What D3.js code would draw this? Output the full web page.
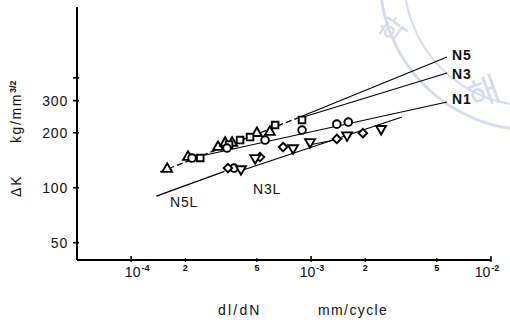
<!DOCTYPE html>
<html>
<head>
<meta charset="utf-8">
<script src="https://cdn.jsdelivr.net/npm/d3@7"></script>
<style>
  body { margin: 0; background: #fff; }
  svg { display: block; font-family: "Liberation Sans", Arial, sans-serif; }
</style>
</head>
<body>
<div id="chart"></div>
<script>
// crack growth rate dl/dN (mm/cycle) vs stress intensity range dK (kg/mm^3/2)
const triUp   = [[1.585e-4,126.6],[2.07e-4,147.3],[3.04e-4,167],[3.33e-4,176],[3.64e-4,176],[5.0e-4,199],[5.9e-4,202]];
const squares = [[2.42e-4,145.5],[3.5e-4,172],[4.03e-4,182.5],[4.58e-4,189.6],[6.31e-4,220.6],[8.91e-4,235]];
const circles = [[2.18e-4,145.5],[3.41e-4,165],[5.55e-4,182.5],[8.91e-4,207],[1.39e-3,223],[1.61e-3,229],[3.73e-4,128.2]];
const diamonds = [[3.45e-4,128.2],[5.2e-4,147.3],[6.99e-4,167],[1.39e-3,185],[1.94e-3,199]];
const triDown = [[4.08e-4,126.6],[4.89e-4,145.5],[7.94e-4,165],[9.87e-4,178],[1.585e-3,194],[2.45e-3,210]];

// fitted lines, [dl/dN, dK] end points
const upperFit = [[1.45e-4,122],[8.69e-4,244]];
const lineN5  = [[8.69e-4,244],[5.7e-3,520]];
const lineN3  = [[8.69e-4,241],[5.7e-3,425]];
const lineN1  = [[2.27e-4,147],[5.7e-3,295]];
const lineN3L = [[4.03e-4,123.5],[3.2e-3,244]];
const lineN3Lb = [[9.87e-4,172],[1.5e-3,186]];
const lineN5L = [[1.38e-4,90],[3.3e-4,123]];

const yTicks = [50,100,200,300,400];
const yLabels = {50:"50",100:"100",200:"200",300:"300"};
const xMajor = [1e-4,1e-3,1e-2];
const xMajorExp = ["-4","-3","-2"];
const xMinor = [2e-4,5e-4,2e-3,5e-3];
const xMinorLab = ["2","5","2","5"];

const svg = d3.select("#chart").append("svg").attr("width", 510).attr("height", 322);

const x = d3.scaleLog().domain([5e-5, 1e-2]).range([77, 491]);
const y = d3.scaleLog().domain([40.2, 977]).range([260, 7]);

// pale watermark seal
const wm = svg.append("g").attr("fill", "none").attr("stroke", "#d3dcef");
wm.append("circle").attr("cx", 532).attr("cy", -22).attr("r", 152).attr("stroke-width", 3);
wm.append("circle").attr("cx", 532).attr("cy", -22).attr("r", 128).attr("stroke-width", 2);
svg.append("text").attr("transform", "translate(402,36) rotate(-55)")
  .attr("font-family", "Noto Sans CJK KR").attr("font-size", 28).attr("fill", "#d0daee")
  .attr("text-anchor", "middle").text("학");
svg.append("text").attr("transform", "translate(488,104) rotate(-20)")
  .attr("font-family", "Noto Sans CJK KR").attr("font-size", 34).attr("fill", "#d0daee")
  .attr("text-anchor", "middle").text("해");

// axes
svg.append("line").attr("x1", x.range()[0]).attr("x2", x.range()[0])
  .attr("y1", y.range()[0]).attr("y2", y.range()[1]).attr("stroke", "#000").attr("stroke-width", 2);
svg.append("line").attr("x1", x.range()[0]).attr("x2", x.range()[1])
  .attr("y1", y.range()[0]).attr("y2", y.range()[0]).attr("stroke", "#000").attr("stroke-width", 2);

yTicks.forEach(t => {
  svg.append("line").attr("x1", 73).attr("x2", 79).attr("y1", y(t)).attr("y2", y(t))
    .attr("stroke", "#000").attr("stroke-width", 1.6);
  if (yLabels[t])
    svg.append("text").attr("x", 68).attr("y", y(t) + 5).attr("text-anchor", "end")
      .attr("font-size", 14).attr("letter-spacing", 0.8).attr("fill", "#111").text(yLabels[t]);
});

xMajor.forEach((t, i) => {
  svg.append("line").attr("x1", x(t)).attr("x2", x(t)).attr("y1", 256).attr("y2", 262)
    .attr("stroke", "#000").attr("stroke-width", 1.6);
  const tx = svg.append("text").attr("x", x(t) + [6, 1, -4][i]).attr("y", 277)
    .attr("text-anchor", "middle").attr("font-size", 14).attr("fill", "#111");
  tx.append("tspan").text("10");
  tx.append("tspan").attr("dy", -6).attr("dx", 1).attr("font-size", 9).attr("font-weight", "bold").text(xMajorExp[i]);
});
xMinor.forEach((t, i) => {
  svg.append("line").attr("x1", x(t)).attr("x2", x(t)).attr("y1", 258).attr("y2", 262)
    .attr("stroke", "#000").attr("stroke-width", 1.2);
  svg.append("text").attr("x", x(t)).attr("y", 271).attr("text-anchor", "middle")
    .attr("font-size", 9).attr("font-weight", "bold").text(xMinorLab[i]);
});

svg.append("text").attr("x", 218).attr("y", 315).attr("font-size", 14).attr("letter-spacing", 2.2)
  .attr("fill", "#111").text("dl/dN");
svg.append("text").attr("x", 318).attr("y", 315).attr("font-size", 14).attr("letter-spacing", 1.4)
  .attr("fill", "#111").text("mm/cycle");

svg.append("text").attr("transform", "translate(21,197) rotate(-90)").attr("font-size", 14)
  .attr("letter-spacing", 2).attr("fill", "#111").text("\u0394K");
const yl = svg.append("text").attr("transform", "translate(21,143) rotate(-90)").attr("font-size", 14)
  .attr("letter-spacing", 1.6).attr("fill", "#111");
yl.append("tspan").text("kg/mm");
yl.append("tspan").attr("dy", -5).attr("font-size", 9).attr("letter-spacing", 0).attr("font-weight", "bold").text("3/2");

// fitted lines
const line = d3.line().x(d => x(d[0])).y(d => y(d[1]));
const drawLine = (d, w, dash) => svg.append("path").attr("d", line(d)).attr("fill", "none")
  .attr("stroke", "#000").attr("stroke-width", w).attr("stroke-dasharray", dash || null);
drawLine(upperFit, 1.3, "6,3");
drawLine(lineN5, 1.1);
drawLine(lineN3, 1.1);
drawLine(lineN1, 1.1);
drawLine(lineN3L, 1.2);
drawLine(lineN3Lb, 1.1);
drawLine(lineN5L, 1.2);

// markers
const sym = (type, size) => d3.symbol().type(type).size(size);
const mark = (data, path, rot) => svg.append("g").selectAll("path").data(data).join("path")
  .attr("transform", d => `translate(${x(d[0])},${y(d[1])})` + (rot ? ` rotate(${rot})` : ""))
  .attr("d", path).attr("fill", "#fff").attr("stroke", "#000").attr("stroke-width", 1.9);
mark(triUp, sym(d3.symbolTriangle, 42)());
mark(squares, sym(d3.symbolSquare, 44)());
mark(circles, sym(d3.symbolCircle, 46)());
mark(diamonds, sym(d3.symbolSquare, 36)(), 45);
mark(triDown, sym(d3.symbolTriangle, 42)(), 180);

// labels
const lab = (txt, px, py, bold) => svg.append("text").attr("x", px).attr("y", py)
  .attr("font-size", 14).attr("letter-spacing", 0.8).attr("font-weight", bold ? "bold" : null)
  .attr("fill", "#111").text(txt);
lab("N5", x(lineN5[1][0]) + 5, y(lineN5[1][1]) + 3, true);
lab("N3", x(lineN3[1][0]) + 5, y(lineN3[1][1]) + 6, true);
lab("N1", x(lineN1[1][0]) + 5, y(lineN1[1][1]) + 2, true);
lab("N5L", 170, 207);
lab("N3L", 253, 194);
</script>
</body>
</html>
